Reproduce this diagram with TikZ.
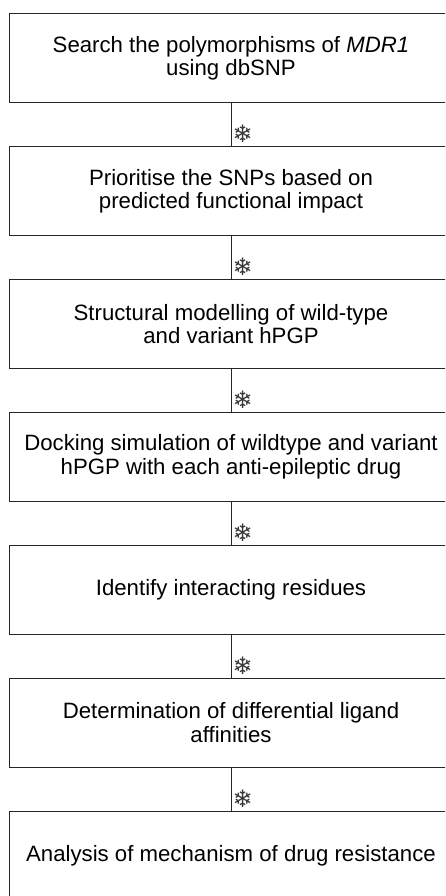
\documentclass[tikz,border=0pt]{standalone}
\usepackage{fontspec}
\setmainfont{Liberation Sans}
\newfontfamily\symfam{DejaVu Sans}
\begin{document}
\begin{tikzpicture}[x=1pt,y=-1pt,
  stepbox/.style={draw=black!85,line width=0.8pt,rectangle,inner sep=0pt,
    minimum width=444pt,minimum height=89pt,align=center,
    font=\fontsize{22.2}{23.2}\selectfont},
  link/.style={draw=black!85,line width=0.8pt},
  flake/.style={anchor=west,inner sep=0pt,text=black!78,font=\symfam\fontsize{24}{24}\selectfont}]
\useasboundingbox (0,0) rectangle (445,896);
\clip (0,0) rectangle (445,896);
\node[stepbox] (b1) at (231,58.0) {Search the polymorphisms of \textit{MDR1}\\using dbSNP};
\node[stepbox] (b2) at (231,190.9) {Prioritise the SNPs based on\\predicted functional impact};
\node[stepbox] (b3) at (231,323.8) {Structural modelling of wild-type\\and variant hPGP};
\node[stepbox] (b4) at (231,456.7) {Docking simulation of wildtype and variant\\hPGP with each anti-epileptic drug};
\node[stepbox] (b5) at (231,589.6) {Identify interacting residues};
\node[stepbox] (b6) at (231,722.5) {Determination of differential ligand\\affinities};
\node[stepbox] (b7) at (231,855.4) {Analysis of mechanism of drug resistance};
\foreach \a/\b in {b1/b2,b2/b3,b3/b4,b4/b5,b5/b6,b6/b7}{
  \draw[link] (\a.south) -- (\b.north);
  \node[flake] (f\b) at ([xshift=1.5pt,yshift=12pt]\b.north) {❄};
}
\end{tikzpicture}
\end{document}
